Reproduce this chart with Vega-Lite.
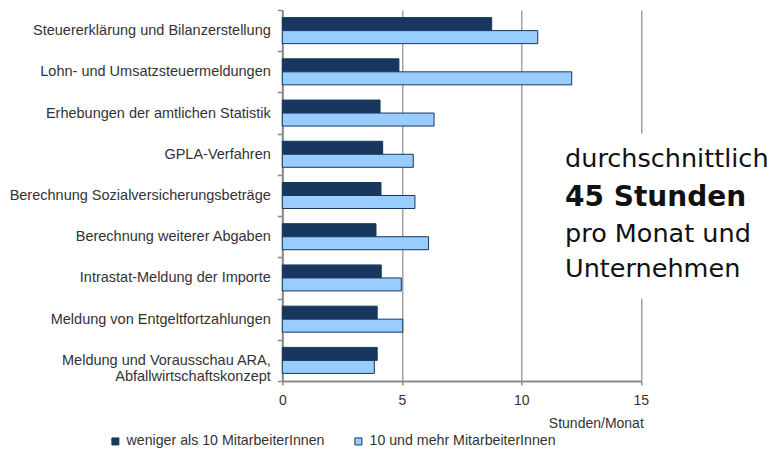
{
  "$schema": "https://vega.github.io/schema/vega-lite/v6.json",
  "width": 358.5,
  "height": 371,
  "autosize": {"type": "none"},
  "padding": {"left": 282.3, "top": 10, "right": 138.2, "bottom": 69},
  "background": "white",
  "config": {
    "view": {"stroke": null},
    "font": "Liberation Sans",
    "axis": {"labelFont": "Liberation Sans", "titleFont": "Liberation Sans", "labelColor": "#333333", "titleColor": "#333333", "labelFontSize": 14, "titleFontSize": 14, "titleFontWeight": "normal"},
    "legend": {"labelFont": "Liberation Sans", "labelFontSize": 14.2, "labelColor": "#333333"}
  },
  "datasets": {
    "werte": [
      {"Taetigkeit": "Steuererklärung und Bilanzerstellung", "Groesse": "weniger als 10 MitarbeiterInnen", "Stunden": 8.76},
      {"Taetigkeit": "Steuererklärung und Bilanzerstellung", "Groesse": "10 und mehr MitarbeiterInnen", "Stunden": 10.69},
      {"Taetigkeit": "Lohn- und Umsatzsteuermeldungen", "Groesse": "weniger als 10 MitarbeiterInnen", "Stunden": 4.88},
      {"Taetigkeit": "Lohn- und Umsatzsteuermeldungen", "Groesse": "10 und mehr MitarbeiterInnen", "Stunden": 12.11},
      {"Taetigkeit": "Erhebungen der amtlichen Statistik", "Groesse": "weniger als 10 MitarbeiterInnen", "Stunden": 4.09},
      {"Taetigkeit": "Erhebungen der amtlichen Statistik", "Groesse": "10 und mehr MitarbeiterInnen", "Stunden": 6.35},
      {"Taetigkeit": "GPLA-Verfahren", "Groesse": "weniger als 10 MitarbeiterInnen", "Stunden": 4.2},
      {"Taetigkeit": "GPLA-Verfahren", "Groesse": "10 und mehr MitarbeiterInnen", "Stunden": 5.48},
      {"Taetigkeit": "Berechnung Sozialversicherungsbeträge", "Groesse": "weniger als 10 MitarbeiterInnen", "Stunden": 4.13},
      {"Taetigkeit": "Berechnung Sozialversicherungsbeträge", "Groesse": "10 und mehr MitarbeiterInnen", "Stunden": 5.55},
      {"Taetigkeit": "Berechnung weiterer Abgaben", "Groesse": "weniger als 10 MitarbeiterInnen", "Stunden": 3.92},
      {"Taetigkeit": "Berechnung weiterer Abgaben", "Groesse": "10 und mehr MitarbeiterInnen", "Stunden": 6.12},
      {"Taetigkeit": "Intrastat-Meldung der Importe", "Groesse": "weniger als 10 MitarbeiterInnen", "Stunden": 4.14},
      {"Taetigkeit": "Intrastat-Meldung der Importe", "Groesse": "10 und mehr MitarbeiterInnen", "Stunden": 4.98},
      {"Taetigkeit": "Meldung von Entgeltfortzahlungen", "Groesse": "weniger als 10 MitarbeiterInnen", "Stunden": 3.97},
      {"Taetigkeit": "Meldung von Entgeltfortzahlungen", "Groesse": "10 und mehr MitarbeiterInnen", "Stunden": 5.04},
      {"Taetigkeit": "Meldung und Vorausschau ARA, Abfallwirtschaftskonzept", "Groesse": "weniger als 10 MitarbeiterInnen", "Stunden": 3.97},
      {"Taetigkeit": "Meldung und Vorausschau ARA, Abfallwirtschaftskonzept", "Groesse": "10 und mehr MitarbeiterInnen", "Stunden": 3.85}
    ],
    "abdeckung": [
      {"Taetigkeit": "GPLA-Verfahren"},
      {"Taetigkeit": "Berechnung Sozialversicherungsbeträge"},
      {"Taetigkeit": "Berechnung weiterer Abgaben"},
      {"Taetigkeit": "Intrastat-Meldung der Importe"}
    ]
  },
  "layer": [
    {
      "data": {"name": "werte"},
      "mark": {"type": "bar", "stroke": "#17375E", "strokeWidth": 1},
      "encoding": {
        "y": {
          "field": "Taetigkeit", "type": "nominal", "sort": null,
          "scale": {
            "domain": ["Steuererklärung und Bilanzerstellung", "Lohn- und Umsatzsteuermeldungen", "Erhebungen der amtlichen Statistik", "GPLA-Verfahren", "Berechnung Sozialversicherungsbeträge", "Berechnung weiterer Abgaben", "Intrastat-Meldung der Importe", "Meldung von Entgeltfortzahlungen", "Meldung und Vorausschau ARA, Abfallwirtschaftskonzept"],
            "paddingInner": 0, "paddingOuter": 0
          },
          "axis": {
            "title": null, "tickBand": "extent", "tickSize": 5, "tickColor": "#8a8a8a", "tickWidth": 1.5,
            "domainColor": "#8a8a8a", "domainWidth": 2, "labelPadding": 7, "labelLimit": 300, "labelLineHeight": 16, "labelFontSize": 14.5,
            "labelExpr": "datum.value == 'Meldung und Vorausschau ARA, Abfallwirtschaftskonzept' ? ['Meldung und Vorausschau ARA,', 'Abfallwirtschaftskonzept'] : datum.label"
          }
        },
        "x": {
          "field": "Stunden", "type": "quantitative",
          "scale": {"domain": [0, 15], "nice": false, "zero": true},
          "axis": {
            "title": "Stunden/Monat", "values": [0, 5, 10, 15], "grid": true, "gridColor": "#8c8c8c", "gridWidth": 1.2,
            "tickSize": 4, "tickColor": "#8a8a8a", "tickWidth": 1.5, "domainColor": "#8a8a8a", "domainWidth": 2,
            "labelPadding": 8, "labelFlush": false, "titleAnchor": "end", "titleAlign": "right", "titleBaseline": "middle", "titleX": 361, "titleY": 42
          }
        },
        "yOffset": {
          "field": "Groesse", "type": "nominal",
          "scale": {"domain": ["weniger als 10 MitarbeiterInnen", "10 und mehr MitarbeiterInnen"], "paddingInner": 0, "paddingOuter": 0.585}
        },
        "color": {
          "field": "Groesse", "type": "nominal",
          "scale": {"domain": ["weniger als 10 MitarbeiterInnen", "10 und mehr MitarbeiterInnen"], "range": ["#17375E", "#99CCFF"]},
          "legend": {
            "title": null, "orient": "none", "legendX": -174, "legendY": 424, "direction": "horizontal", "columns": 2,
            "symbolType": "square", "symbolSize": 49, "symbolStrokeColor": "#17375E", "symbolStrokeWidth": 1,
            "labelOffset": 4, "columnPadding": 26, "labelLimit": 300
          }
        }
      }
    },
    {
      "data": {"name": "abdeckung"},
      "mark": {"type": "bar", "color": "white"},
      "encoding": {
        "y": {"field": "Taetigkeit", "type": "nominal", "sort": null},
        "x": {"datum": 14.8, "type": "quantitative"},
        "x2": {"datum": 15.2}
      }
    },
    {
      "data": {"values": [{"zeile": "durchschnittlich"}]},
      "mark": {"type": "text", "align": "left", "baseline": "alphabetic", "font": "DejaVu Sans", "fontSize": 25.5, "color": "#111111", "dy": 12.5},
      "encoding": {
        "text": {"field": "zeile"},
        "x": {"datum": 11.83, "type": "quantitative"},
        "y": {"datum": "GPLA-Verfahren", "type": "nominal"}
      }
    },
    {
      "data": {"values": [{"zeile": "45 Stunden"}]},
      "mark": {"type": "text", "align": "left", "baseline": "alphabetic", "font": "DejaVu Sans", "fontWeight": "bold", "fontSize": 28, "color": "#111111", "dy": 10.6},
      "encoding": {
        "text": {"field": "zeile"},
        "x": {"datum": 11.83, "type": "quantitative"},
        "y": {"datum": "Berechnung Sozialversicherungsbeträge", "type": "nominal"}
      }
    },
    {
      "data": {"values": [{"zeile": "pro Monat und"}]},
      "mark": {"type": "text", "align": "left", "baseline": "alphabetic", "font": "DejaVu Sans", "fontSize": 25.5, "color": "#111111", "dy": 5.1},
      "encoding": {
        "text": {"field": "zeile"},
        "x": {"datum": 11.83, "type": "quantitative"},
        "y": {"datum": "Berechnung weiterer Abgaben", "type": "nominal"}
      }
    },
    {
      "data": {"values": [{"zeile": "Unternehmen"}]},
      "mark": {"type": "text", "align": "left", "baseline": "alphabetic", "font": "DejaVu Sans", "fontSize": 25.5, "color": "#111111", "dy": -1.1},
      "encoding": {
        "text": {"field": "zeile"},
        "x": {"datum": 11.83, "type": "quantitative"},
        "y": {"datum": "Intrastat-Meldung der Importe", "type": "nominal"}
      }
    }
  ]
}
